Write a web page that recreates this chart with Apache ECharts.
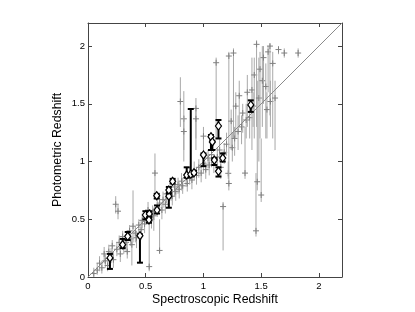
<!DOCTYPE html>
<html><head><meta charset="utf-8">
<script src="https://cdn.jsdelivr.net/npm/echarts@6/dist/echarts.min.js"></script>
<style>html,body{margin:0;padding:0;background:#fff}#c{width:415px;height:312px}</style>
</head><body><div id="c"></div>
<script>
// grey points: x, y, lower, upper
var gx = [0.05,0.08,0.10,0.12,0.14,0.15,0.17,0.18,0.20,0.21,0.22,0.24,0.26,0.25,0.27,0.28,0.30,0.31,0.33,0.34,0.36,0.37,0.38,0.39,0.41,0.42,0.44,0.46,0.47,0.49,0.50,0.53,0.52,0.55,0.56,0.57,0.58,0.60,0.62,0.62,0.64,0.65,0.67,0.68,0.70,0.72,0.73,0.75,0.76,0.78,0.79,0.80,0.81,0.83,0.83,0.82,0.85,0.86,0.88,0.90,0.92,0.935,0.935,0.94,0.96,0.98,1.00,1.00,1.02,1.04,1.05,1.07,1.09,1.11,1.12,1.14,1.15,1.17,1.18,1.20,1.215,1.22,1.22,1.24,1.25,1.26,1.27,1.28,1.30,1.31,1.33,1.34,1.36,1.37,1.38,1.40,1.42,1.43,1.44,1.455,1.46,1.466,1.48,1.49,1.50,1.51,1.52,1.54,1.55,1.56,1.576,1.58,1.60,1.62,1.65,1.70,1.82];
var gy = [0.03,0.06,0.12,0.08,0.20,0.14,0.10,0.22,0.19,0.27,0.15,0.63,0.57,0.24,0.30,0.20,0.35,0.26,0.30,0.22,0.40,0.33,0.28,0.44,0.38,0.34,0.45,0.41,0.49,0.46,0.52,0.09,0.58,0.50,0.56,0.53,0.90,0.60,0.23,0.64,0.58,0.67,0.63,0.72,0.68,0.74,0.70,0.78,0.74,0.80,0.76,1.52,0.83,1.37,1.26,0.79,0.86,0.81,0.88,0.84,0.92,1.46,1.37,0.88,0.95,0.90,1.22,0.98,0.93,1.03,0.97,1.06,0.99,1.856,1.04,1.10,0.95,0.61,1.08,1.15,0.898,0.81,1.914,1.35,1.12,1.94,1.20,1.48,1.26,1.57,1.30,1.42,0.90,1.36,1.60,1.38,1.62,1.48,1.75,0.40,2.015,0.825,1.55,1.80,0.71,1.70,1.90,1.65,1.45,1.95,2.00,1.52,1.85,1.55,1.97,1.94,1.94];
var glo = [0.00,0.02,0.05,0.03,0.12,0.08,0.05,0.15,0.12,0.20,0.08,0.55,0.50,0.18,0.23,0.13,0.28,0.20,0.22,0.16,0.32,0.27,0.10,0.30,0.30,0.25,0.38,0.32,0.42,0.38,0.45,0.05,0.50,0.42,0.48,0.40,0.68,0.52,0.20,0.57,0.50,0.60,0.55,0.64,0.60,0.66,0.62,0.70,0.66,0.72,0.68,1.30,0.75,1.00,1.10,0.72,0.78,0.74,0.80,0.76,0.84,1.20,1.10,0.80,0.86,0.82,1.05,0.90,0.85,0.94,0.88,0.95,0.90,1.20,0.95,1.00,0.85,0.23,0.98,1.05,0.85,0.75,1.10,1.10,1.00,1.20,1.05,1.20,1.10,1.30,1.15,1.25,0.85,1.20,1.30,1.20,1.10,1.30,1.20,0.35,1.30,0.75,1.00,1.20,0.65,1.30,1.50,1.20,1.20,1.60,1.40,1.30,1.20,1.10,1.93,1.90,1.90];
var ghi = [0.08,0.12,0.18,0.14,0.26,0.20,0.16,0.28,0.25,0.32,0.22,0.70,0.63,0.30,0.36,0.27,0.40,0.32,0.36,0.30,0.45,0.40,0.35,0.75,0.44,0.40,0.50,0.50,0.55,0.52,0.58,0.50,0.65,0.57,0.62,0.60,1.07,0.67,0.50,0.70,0.65,0.74,0.70,0.78,0.75,0.80,0.76,0.85,0.80,0.86,0.82,1.73,0.90,1.61,1.40,0.86,0.92,0.88,0.95,0.90,1.00,1.55,1.45,0.95,1.02,0.96,1.30,1.06,1.00,1.10,1.04,1.15,1.06,1.90,1.12,1.20,1.05,0.65,1.16,1.25,1.00,1.10,1.95,1.45,1.25,1.98,1.30,1.60,1.40,1.70,1.40,1.50,1.30,1.50,1.75,1.50,1.90,1.60,1.90,0.90,2.05,1.70,1.90,1.95,1.20,2.00,2.00,1.85,1.60,2.00,2.02,1.70,1.95,1.70,2.00,1.98,1.98];
// black diamonds: x, y, lower, upper
var bx = [0.19,0.30,0.344,0.45,0.497,0.531,0.528,0.598,0.595,0.70,0.70,0.733,0.855,0.89,0.918,1.0,1.065,1.077,1.13,1.094,1.13,1.167,1.41];
var by = [0.165,0.28,0.352,0.358,0.537,0.546,0.494,0.58,0.704,0.70,0.753,0.829,0.883,0.89,0.903,1.057,1.215,1.17,1.308,1.013,0.915,1.03,1.49];
var blo = [0.07,0.25,0.32,0.124,0.50,0.52,0.47,0.55,0.68,0.60,0.73,0.81,0.86,0.87,0.89,0.96,1.10,1.10,1.20,0.97,0.87,1.00,1.43];
var bhi = [0.20,0.33,0.39,0.37,0.57,0.57,0.51,0.62,0.72,0.72,0.78,0.85,0.95,1.455,0.92,1.07,1.23,1.18,1.36,1.03,0.95,1.07,1.53];
var ticks = [0, 0.5, 1, 1.5, 2];

var greyData = gx.map(function (v, i) { return [v, gy[i], glo[i], ghi[i]]; });
var blackData = bx.map(function (v, i) { return [v, by[i], blo[i], bhi[i]]; });

function greyItem(params, api) {
  var p = api.coord([api.value(0), api.value(1)]);
  var lo = api.coord([api.value(0), api.value(2)]);
  var hi = api.coord([api.value(0), api.value(3)]);
  var s = {stroke: '#a8a8a8', lineWidth: 1};
  var m = {stroke: '#808080', lineWidth: 1};
  return {type: 'group', children: [
    {type: 'line', shape: {x1: lo[0], y1: lo[1], x2: hi[0], y2: hi[1]}, style: s},
    {type: 'line', shape: {x1: p[0] - 3, y1: p[1], x2: p[0] + 3, y2: p[1]}, style: m},
    {type: 'line', shape: {x1: p[0], y1: p[1] - 3, x2: p[0], y2: p[1] + 3}, style: m}
  ]};
}
function blackItem(params, api) {
  var p = api.coord([api.value(0), api.value(1)]);
  var lo = api.coord([api.value(0), api.value(2)]);
  var hi = api.coord([api.value(0), api.value(3)]);
  var s = {stroke: '#000', lineWidth: 2};
  var x = p[0], y = p[1];
  return {type: 'group', children: [
    {type: 'line', shape: {x1: lo[0], y1: lo[1], x2: hi[0], y2: hi[1]}, style: s},
    {type: 'line', shape: {x1: lo[0] - 3, y1: lo[1], x2: lo[0] + 3, y2: lo[1]}, style: s},
    {type: 'line', shape: {x1: hi[0] - 3, y1: hi[1], x2: hi[0] + 3, y2: hi[1]}, style: s},
    {type: 'polygon', shape: {points: [[x, y - 4], [x + 3, y], [x, y + 4], [x - 3, y]]},
      style: {fill: '#fff', stroke: '#000', lineWidth: 1.2}}
  ]};
}

var FONT = 'Liberation Sans, Arial, sans-serif';
function fmt(v) { return ticks.indexOf(v) >= 0 ? String(v) : ''; }
var axisTick = {show: true, inside: true, length: 4, lineStyle: {color: '#444'}};
function ax(extra) {
  var a = {type: 'value', min: 0, max: 2.2, interval: 0.5, splitLine: {show: false},
    axisLine: {show: true, onZero: false, lineStyle: {color: '#444', width: 1}}, axisTick: axisTick};
  for (var k in extra) a[k] = extra[k];
  return a;
}
var chart = echarts.init(document.getElementById('c'), null, {renderer: 'canvas'});
chart.setOption({
  animation: false,
  backgroundColor: '#fff',
  grid: {left: 88, top: 23, width: 254, height: 254, containLabel: false, outerBoundsMode: 'none'},
  xAxis: [
    ax({position: 'bottom', name: 'Spectroscopic Redshift', nameLocation: 'middle', nameGap: 17, nameMoveOverlap: false,
      nameTextStyle: {fontSize: 12.3, color: '#000', fontFamily: FONT},
      axisLabel: {color: '#000', fontSize: 9.5, fontFamily: FONT, showMaxLabel: false, margin: 4, formatter: fmt}}),
    ax({position: 'top', axisLabel: {show: false}})
  ],
  yAxis: [
    ax({position: 'left', name: 'Photometric Redshift', nameLocation: 'middle', nameGap: 24, nameMoveOverlap: false,
      nameTextStyle: {fontSize: 12.3, color: '#000', fontFamily: FONT},
      axisLabel: {color: '#000', fontSize: 9.5, fontFamily: FONT, showMaxLabel: false, margin: 3, formatter: fmt}}),
    ax({position: 'right', axisLabel: {show: false}})
  ],
  series: [
    {type: 'custom', renderItem: greyItem, data: greyData, encode: {x: 0, y: 1}, z: 2},
    {type: 'line', data: [[0, 0], [2.2, 2.2]], symbol: 'none', lineStyle: {color: '#8a8a8a', width: 1}, z: 3},
    {type: 'custom', renderItem: blackItem, data: blackData, encode: {x: 0, y: 1}, z: 4}
  ]
});
</script></body></html>
